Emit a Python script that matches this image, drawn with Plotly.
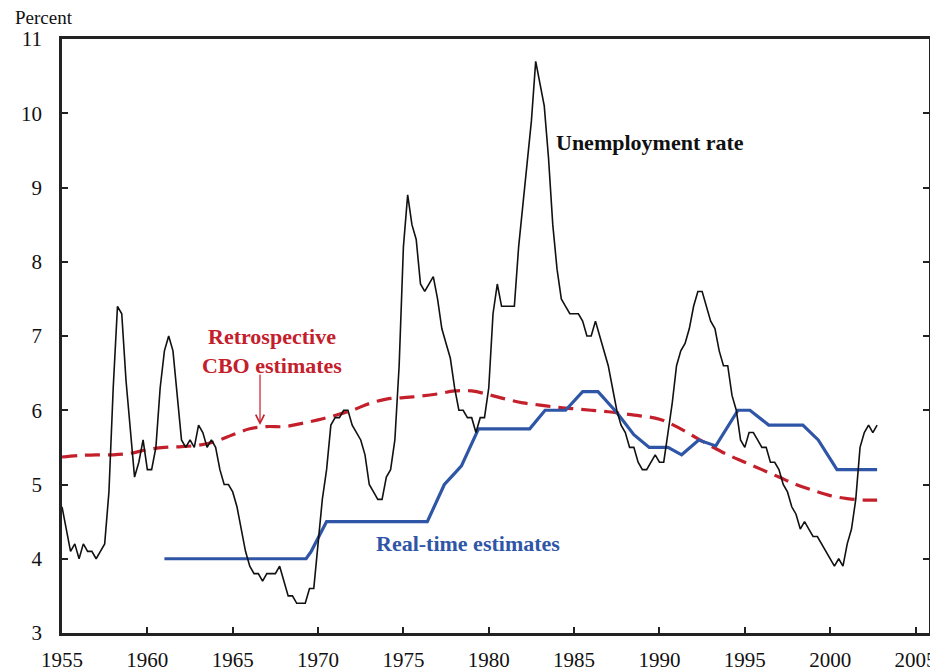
import plotly.graph_objects as go

# Quarterly civilian unemployment rate, 1955Q1 - 2002Q4 (percent)
unemp_start_year = 1955
unemployment = [
    4.7, 4.4, 4.1, 4.2,   4.0, 4.2, 4.1, 4.1,   4.0, 4.1, 4.2, 4.9,   6.3, 7.4, 7.3, 6.4,
    5.8, 5.1, 5.3, 5.6,   5.2, 5.2, 5.5, 6.3,   6.8, 7.0, 6.8, 6.2,   5.6, 5.5, 5.6, 5.5,
    5.8, 5.7, 5.5, 5.6,   5.5, 5.2, 5.0, 5.0,   4.9, 4.7, 4.4, 4.1,   3.9, 3.8, 3.8, 3.7,
    3.8, 3.8, 3.8, 3.9,   3.7, 3.5, 3.5, 3.4,   3.4, 3.4, 3.6, 3.6,   4.2, 4.8, 5.2, 5.8,
    5.9, 5.9, 6.0, 6.0,   5.8, 5.7, 5.6, 5.4,   5.0, 4.9, 4.8, 4.8,   5.1, 5.2, 5.6, 6.6,
    8.2, 8.9, 8.5, 8.3,   7.7, 7.6, 7.7, 7.8,   7.5, 7.1, 6.9, 6.7,   6.3, 6.0, 6.0, 5.9,
    5.9, 5.7, 5.9, 5.9,   6.3, 7.3, 7.7, 7.4,   7.4, 7.4, 7.4, 8.2,   8.8, 9.4, 9.9, 10.7,
    10.4, 10.1, 9.4, 8.5, 7.9, 7.5, 7.4, 7.3,   7.3, 7.3, 7.2, 7.0,   7.0, 7.2, 7.0, 6.8,
    6.6, 6.3, 6.0, 5.8,   5.7, 5.5, 5.5, 5.3,   5.2, 5.2, 5.3, 5.4,   5.3, 5.3, 5.7, 6.1,
    6.6, 6.8, 6.9, 7.1,   7.4, 7.6, 7.6, 7.4,   7.2, 7.1, 6.8, 6.6,   6.6, 6.2, 6.0, 5.6,
    5.5, 5.7, 5.7, 5.6,   5.5, 5.5, 5.3, 5.3,   5.2, 5.0, 4.9, 4.7,   4.6, 4.4, 4.5, 4.4,
    4.3, 4.3, 4.2, 4.1,   4.0, 3.9, 4.0, 3.9,   4.2, 4.4, 4.8, 5.5,   5.7, 5.8, 5.7, 5.8,
]

# Retrospective CBO estimates of the NAIRU
cbo_years = [1955, 1956, 1957, 1958, 1959, 1960, 1961, 1962, 1963, 1964, 1965, 1966,
             1967, 1968, 1969, 1970, 1971, 1972, 1973, 1974, 1975, 1976, 1977, 1978,
             1979, 1980, 1981, 1982, 1983, 1984, 1985, 1986, 1987, 1988, 1989, 1990,
             1991, 1992, 1993, 1994, 1995, 1996, 1997, 1998, 1999, 2000, 2001, 2002, 2002.75]
cbo_values = [5.37, 5.39, 5.40, 5.40, 5.42, 5.47, 5.50, 5.51, 5.53, 5.58, 5.67, 5.75,
              5.78, 5.78, 5.82, 5.87, 5.93, 6.00, 6.09, 6.15, 6.17, 6.19, 6.22, 6.26,
              6.26, 6.21, 6.15, 6.10, 6.07, 6.04, 6.02, 6.00, 5.98, 5.95, 5.92, 5.88,
              5.78, 5.65, 5.52, 5.40, 5.30, 5.20, 5.10, 5.00, 4.92, 4.85, 4.81, 4.79, 4.79]

# Real-time estimates (break points of the series)
rt_years = [1961.0, 1969.3, 1969.6, 1970.5, 1976.4, 1976.6, 1977.4, 1978.0, 1978.4, 1979.4,
            1982.4, 1983.3, 1984.5, 1985.5, 1986.4, 1987.5, 1988.5, 1989.4, 1990.5, 1991.3,
            1992.3, 1993.3, 1994.6, 1995.3, 1996.4, 1998.4, 1999.3, 2000.4, 2002.75]
rt_values = [4.0, 4.0, 4.1, 4.5, 4.5, 4.6, 5.0, 5.15, 5.25, 5.75,
             5.75, 6.0, 6.0, 6.25, 6.25, 5.97, 5.67, 5.5, 5.5, 5.4,
             5.6, 5.52, 6.0, 6.0, 5.8, 5.8, 5.6, 5.2, 5.2]

x_ticks = [1955, 1960, 1965, 1970, 1975, 1980, 1985, 1990, 1995, 2000, 2005]
y_ticks = [3, 4, 5, 6, 7, 8, 9, 10, 11]

RED = "#C4202C"
BLUE = "#2F56A6"
FONT = "Liberation Serif"

quarters = [unemp_start_year + i / 4 for i in range(len(unemployment))]

fig = go.Figure()
fig.add_trace(go.Scatter(x=cbo_years, y=cbo_values, mode="lines",
                         line=dict(color=RED, width=3.2, dash="15px,8px", shape="spline"),
                         hoverinfo="skip"))
fig.add_trace(go.Scatter(x=rt_years, y=rt_values, mode="lines",
                         line=dict(color=BLUE, width=3.2), hoverinfo="skip"))
fig.add_trace(go.Scatter(x=quarters, y=unemployment, mode="lines",
                         line=dict(color="#111111", width=1.6), hoverinfo="skip"))

# page body has an 8px margin, so the figure is shrunk and shifted accordingly
fig.update_layout(
    width=930, height=663,
    margin=dict(l=54, r=9, t=31, b=38),
    paper_bgcolor="white", plot_bgcolor="white",
    showlegend=False,
    font=dict(family=FONT, size=21, color="#111111"),
    xaxis=dict(range=[1955, 2005.79], tickvals=x_ticks, ticktext=[str(v) for v in x_ticks],
               ticks="inside", ticklen=6, tickwidth=1.5, tickcolor="#222",
               showline=True, linewidth=2.5, linecolor="#222", mirror=True,
               showgrid=False, zeroline=False, ticklabelstandoff=6, automargin=False,
               tickfont=dict(family=FONT, size=21)),
    yaxis=dict(range=[3, 11], tickvals=y_ticks,
               ticks="inside", ticklen=6, tickwidth=1.5, tickcolor="#222",
               showline=True, linewidth=2.5, linecolor="#222", mirror="ticks",
               showgrid=False, zeroline=False, ticklabelstandoff=13, automargin=False,
               tickfont=dict(family=FONT, size=21)),
)

annotations = [
    dict(text="Percent", xref="paper", yref="paper", x=-0.057, y=1.0, yshift=22,
         xanchor="left", yanchor="middle", showarrow=False, font=dict(family=FONT, size=19)),
    dict(text="<b>Unemployment rate</b>", xref="x", yref="y", x=1989.45, y=9.6,
         xanchor="center", yanchor="middle", showarrow=False,
         font=dict(family=FONT, size=22, color="#111")),
    dict(text="<b>Retrospective<br>CBO estimates</b>", xref="x", yref="y", x=1967.3, y=6.8,
         xanchor="center", yanchor="middle", showarrow=False,
         font=dict(family=FONT, size=22, color=RED)),
    dict(text="", xref="x", yref="y", x=1966.6, y=5.8, ax=0, ay=-52,
         showarrow=True, arrowhead=5, arrowsize=1.4, arrowwidth=1.2, arrowcolor=RED),
    dict(text="<b>Real-time estimates</b>", xref="x", yref="y", x=1978.8, y=4.2,
         xanchor="center", yanchor="middle", showarrow=False,
         font=dict(family=FONT, size=22, color=BLUE)),
]
fig.update_layout(annotations=annotations)

fig.write_html("out.html")
